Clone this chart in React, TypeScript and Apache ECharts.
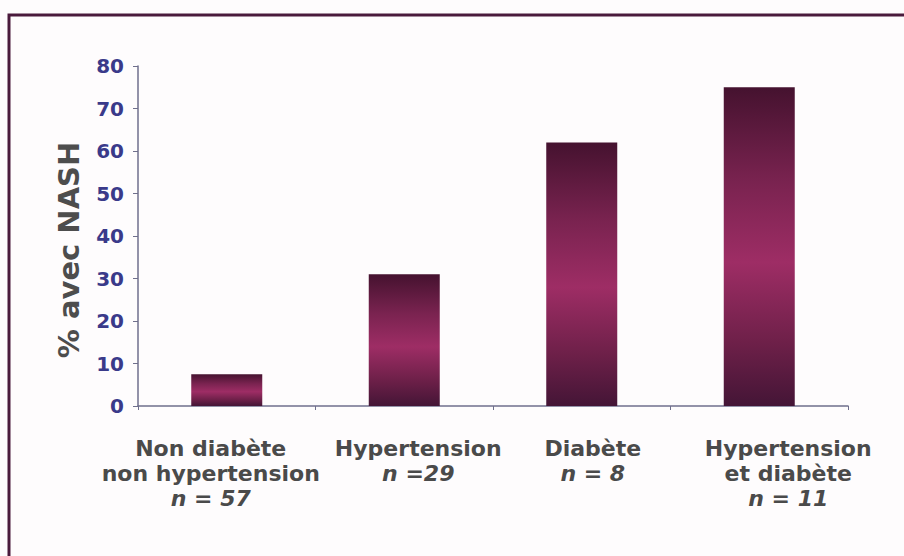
import React, { useEffect, useRef } from "react";
import * as echarts from "echarts";

const categories = ["Non diabète\nnon hypertension", "Hypertension", "Diabète", "Hypertension\net diabète"];
const sampleSizes = ["n = 57", "n =29", "n = 8", "n = 11"];
const nashPercent = [7.5, 31, 62, 75];
const yTicks = { min: 0, max: 80, interval: 10 };

export default function App() {
  const ref = useRef<HTMLDivElement>(null);
  useEffect(() => {
    if (!ref.current) return;
    const chart = echarts.init(ref.current, undefined, { renderer: "svg" });
    const labelPads = [
      [0, 32, 0, 0],
      [0, 0, 0, 28],
      [0, 0, 0, 22],
      [0, 0, 0, 58],
    ];
    const barGradient = new echarts.graphic.LinearGradient(0, 0, 0, 1, [
      { offset: 0, color: "#45122f" },
      { offset: 0.3, color: "#7a2350" },
      { offset: 0.55, color: "#9e2d65" },
      { offset: 0.8, color: "#6e2049" },
      { offset: 1, color: "#441536" },
    ]);
    const labelFont = {
      fontFamily: "DejaVu Sans",
      fontWeight: "bold",
      fontSize: 22,
      color: "#4a4a4a",
      lineHeight: 25,
    };
    chart.setOption({
      animation: false,
      backgroundColor: "#fefcfd",
      graphic: [
        {
          type: "rect",
          shape: { x: 9, y: 15, width: 1000, height: 1000 },
          style: { fill: "none", stroke: "#4a1a3c", lineWidth: 3 },
          silent: true,
        },
      ],
      grid: { left: 138, right: 56, top: 66, bottom: 150 },
      xAxis: {
        type: "category",
        data: categories.map((c, i) => ({ value: c, textStyle: { padding: labelPads[i] } })),
        axisLine: { lineStyle: { color: "#6f6f8c", width: 1.5 } },
        axisTick: { show: true, length: 4, lineStyle: { color: "#6f6f8c" } },
        axisLabel: {
          margin: 30,
          interval: 0,
          formatter: (value: string, idx: number) =>
            value
              .split("\n")
              .map((l) => `{a|${l}}`)
              .join("\n") + `\n{n|${sampleSizes[idx]}}`,
          rich: {
            a: { ...labelFont },
            n: { ...labelFont, fontStyle: "italic" },
          },
        },
      },
      yAxis: {
        type: "value",
        min: yTicks.min,
        max: yTicks.max,
        interval: yTicks.interval,
        name: "% avec NASH",
        nameLocation: "middle",
        nameGap: 55,
        nameTextStyle: {
          fontFamily: "DejaVu Sans",
          fontWeight: "bold",
          fontSize: 29,
          color: "#4d4d4d",
          padding: [0, 28, 0, 0],
        },
        splitLine: { show: false },
        axisLine: { show: true, lineStyle: { color: "#6f6f8c", width: 1.5 } },
        axisTick: { show: true, length: 5, lineStyle: { color: "#6f6f8c" } },
        axisLabel: {
          margin: 14,
          fontFamily: "DejaVu Sans",
          fontWeight: "bold",
          fontSize: 20,
          color: "#3a3a8a",
        },
      },
      series: [
        {
          type: "bar",
          data: nashPercent,
          barWidth: "40%",
          itemStyle: { color: barGradient },
        },
      ],
    });
    return () => chart.dispose();
  }, []);
  return (
    <div
      ref={ref}
      style={{ position: "fixed", left: 0, top: 0, width: 904, height: 556 }}
    />
  );
}
